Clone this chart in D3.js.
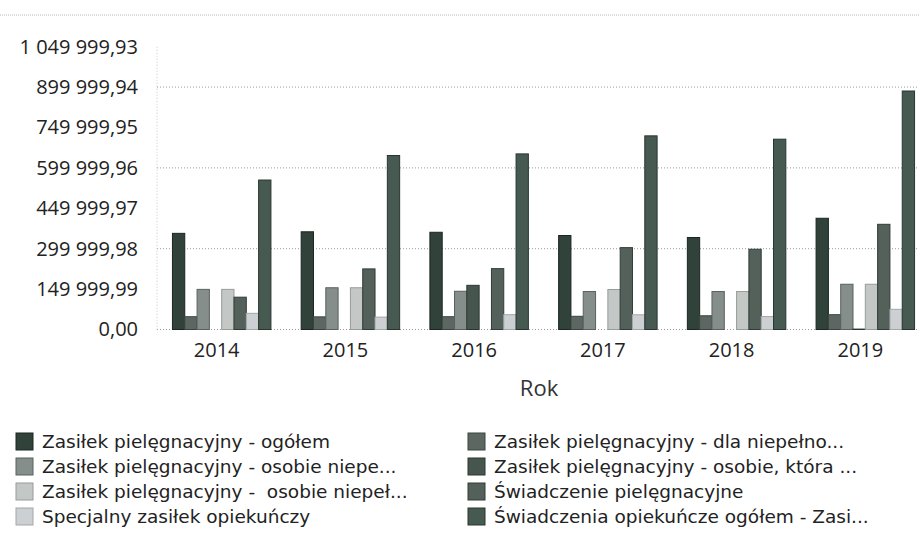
<!DOCTYPE html>
<html>
<head>
<meta charset="utf-8">
<script src="https://cdn.jsdelivr.net/npm/d3@7/dist/d3.min.js"></script>
<style>
  html, body { margin: 0; padding: 0; background: #fff; }
  svg { display: block; }
  .legend-label { white-space: pre; }
</style>
</head>
<body>
<svg id="chart" width="920" height="546"></svg>
<script>
// Years on the category axis
const years = ["2014", "2015", "2016", "2017", "2018", "2019"];

// Series names (legend order, row by row)
const seriesNames = [
  "Zasiłek pielęgnacyjny - ogółem",
  "Zasiłek pielęgnacyjny - dla niepełno...",
  "Zasiłek pielęgnacyjny - osobie niepe...",
  "Zasiłek pielęgnacyjny - osobie, która ...",
  "Zasiłek pielęgnacyjny -  osobie niepeł...",
  "Świadczenie pielęgnacyjne",
  "Specjalny zasiłek opiekuńczy",
  "Świadczenia opiekuńcze ogółem - Zasi..."
];

// Values per series, one per year
const zpOgolem        = [357000, 362800, 361000, 349000, 341600, 413000];
const zpDziecko       = [47500, 47000, 47500, 49000, 51000, 55000];
const zpZnaczny       = [149000, 155000, 142000, 141000, 141000, 168000];
const zp75            = [0, 0, 164000, 0, 0, 1500];
const zpUmiarkowany   = [149000, 155000, 0, 148500, 141000, 168000];
const swPielegnacyjne = [120000, 225000, 226000, 304000, 298000, 390600];
const specjalny       = [60000, 46000, 55000, 54600, 48000, 75000];
const swOgolem        = [555000, 646000, 652000, 719000, 706600, 885500];

const seriesValues = [zpOgolem, zpDziecko, zpZnaczny, zp75, zpUmiarkowany,
                      swPielegnacyjne, specjalny, swOgolem];

// Value-axis step and number of ticks
const yStep = 149999.99;
const yTickCount = 8;

const colors = ["#30423a", "#5d6762", "#858e8a", "#46564e",
                "#c3c7c5", "#53615a", "#cdd0d2", "#475a52"];
const strokes = ["#1b2621", "#3b4440", "#59625e", "#2b3731",
                 "#979c99", "#333d38", "#a3a6a9", "#283630"];

const svg = d3.select("#chart");
const fmt = d3.formatLocale({ decimal: ",", thousands: " ", grouping: [3], currency: ["", ""] }).format(",.2f");

const y = d3.scaleLinear()
  .domain([0, yStep * 7])
  .range([329.5, 329.5 - 7 * 40.4]);

const x0 = d3.scaleBand()
  .domain(years)
  .range([157, 930])
  .paddingInner(0.235)
  .paddingOuter(0.12);

const x1 = d3.scaleBand()
  .domain(d3.range(seriesNames.length))
  .range([0, x0.bandwidth()])
  .padding(0);

// Top separator line
svg.append("line")
  .attr("x1", 0).attr("x2", 920)
  .attr("y1", 15).attr("y2", 15)
  .attr("stroke", "#b8b8b8").attr("stroke-width", 1)
  .attr("stroke-dasharray", "1,1");

// Dotted gridlines (every other tick)
const tickValues = d3.range(yTickCount).map(i => i * yStep);
svg.append("g")
  .selectAll("line")
  .data(tickValues.filter((d, i) => i % 2 === 0))
  .join("line")
  .attr("x1", 157).attr("x2", 918)
  .attr("y1", d => y(d)).attr("y2", d => y(d))
  .attr("stroke", "#9a9a9a")
  .attr("stroke-width", 1)
  .attr("stroke-dasharray", "1,2");

// Value axis guide
svg.append("line")
  .attr("x1", 157).attr("x2", 157)
  .attr("y1", y(yStep * 7)).attr("y2", y(0))
  .attr("stroke", "#c4c4c4")
  .attr("stroke-dasharray", "1,2");

// Value axis labels
const yAxis = d3.axisLeft(y)
  .tickValues(tickValues)
  .tickFormat(d => fmt(d))
  .tickSize(0)
  .tickPadding(0);
const gy = svg.append("g")
  .attr("transform", "translate(138,0)")
  .call(yAxis);
gy.select(".domain").remove();
gy.selectAll("text")
  .attr("font-family", "'Open Sans', sans-serif")
  .attr("font-size", 20)
  .attr("fill", "#222");

// Bars
const groups = svg.append("g")
  .selectAll("g")
  .data(years)
  .join("g")
  .attr("transform", d => `translate(${x0(d)},0)`);

groups.selectAll("rect")
  .data((yr, yi) => seriesValues.map((vals, si) => ({ si, v: vals[yi] })))
  .join("rect")
  .attr("x", d => x1(d.si))
  .attr("y", d => y(d.v))
  .attr("width", x1.bandwidth())
  .attr("height", d => y(0) - y(d.v))
  .attr("fill", d => colors[d.si])
  .attr("stroke", d => d.v > 0 ? strokes[d.si] : "none")
  .attr("stroke-width", 1);

// Category axis labels
const xAxis = d3.axisBottom(x0).tickSize(0).tickPadding(0);
const gx = svg.append("g")
  .attr("transform", "translate(-5,343)")
  .call(xAxis);
gx.select(".domain").remove();
gx.selectAll("text")
  .attr("font-family", "'Open Sans', sans-serif")
  .attr("font-size", 20)
  .attr("fill", "#222")
  .attr("dy", "0.71em");

// Axis title
svg.append("text")
  .attr("x", 539).attr("y", 396)
  .attr("text-anchor", "middle")
  .attr("font-family", "'Open Sans', sans-serif")
  .attr("font-size", 22)
  .attr("fill", "#333")
  .text("Rok");

// Legend: two columns, filled row by row
const legend = svg.append("g")
  .selectAll("g")
  .data(seriesNames)
  .join("g")
  .attr("transform", (d, i) => `translate(${i % 2 === 0 ? 16 : 468},${433 + Math.floor(i / 2) * 25})`);

legend.append("rect")
  .attr("width", 17).attr("height", 17)
  .attr("fill", (d, i) => colors[i])
  .attr("stroke", (d, i) => strokes[i])
  .attr("stroke-width", 1);

legend.append("text")
  .attr("class", "legend-label")
  .attr("x", 26).attr("y", 15)
  .attr("font-family", "'DejaVu Sans', sans-serif")
  .attr("font-size", 18.5)
  .attr("fill", "#222")
  .text(d => d);
</script>
</body>
</html>
